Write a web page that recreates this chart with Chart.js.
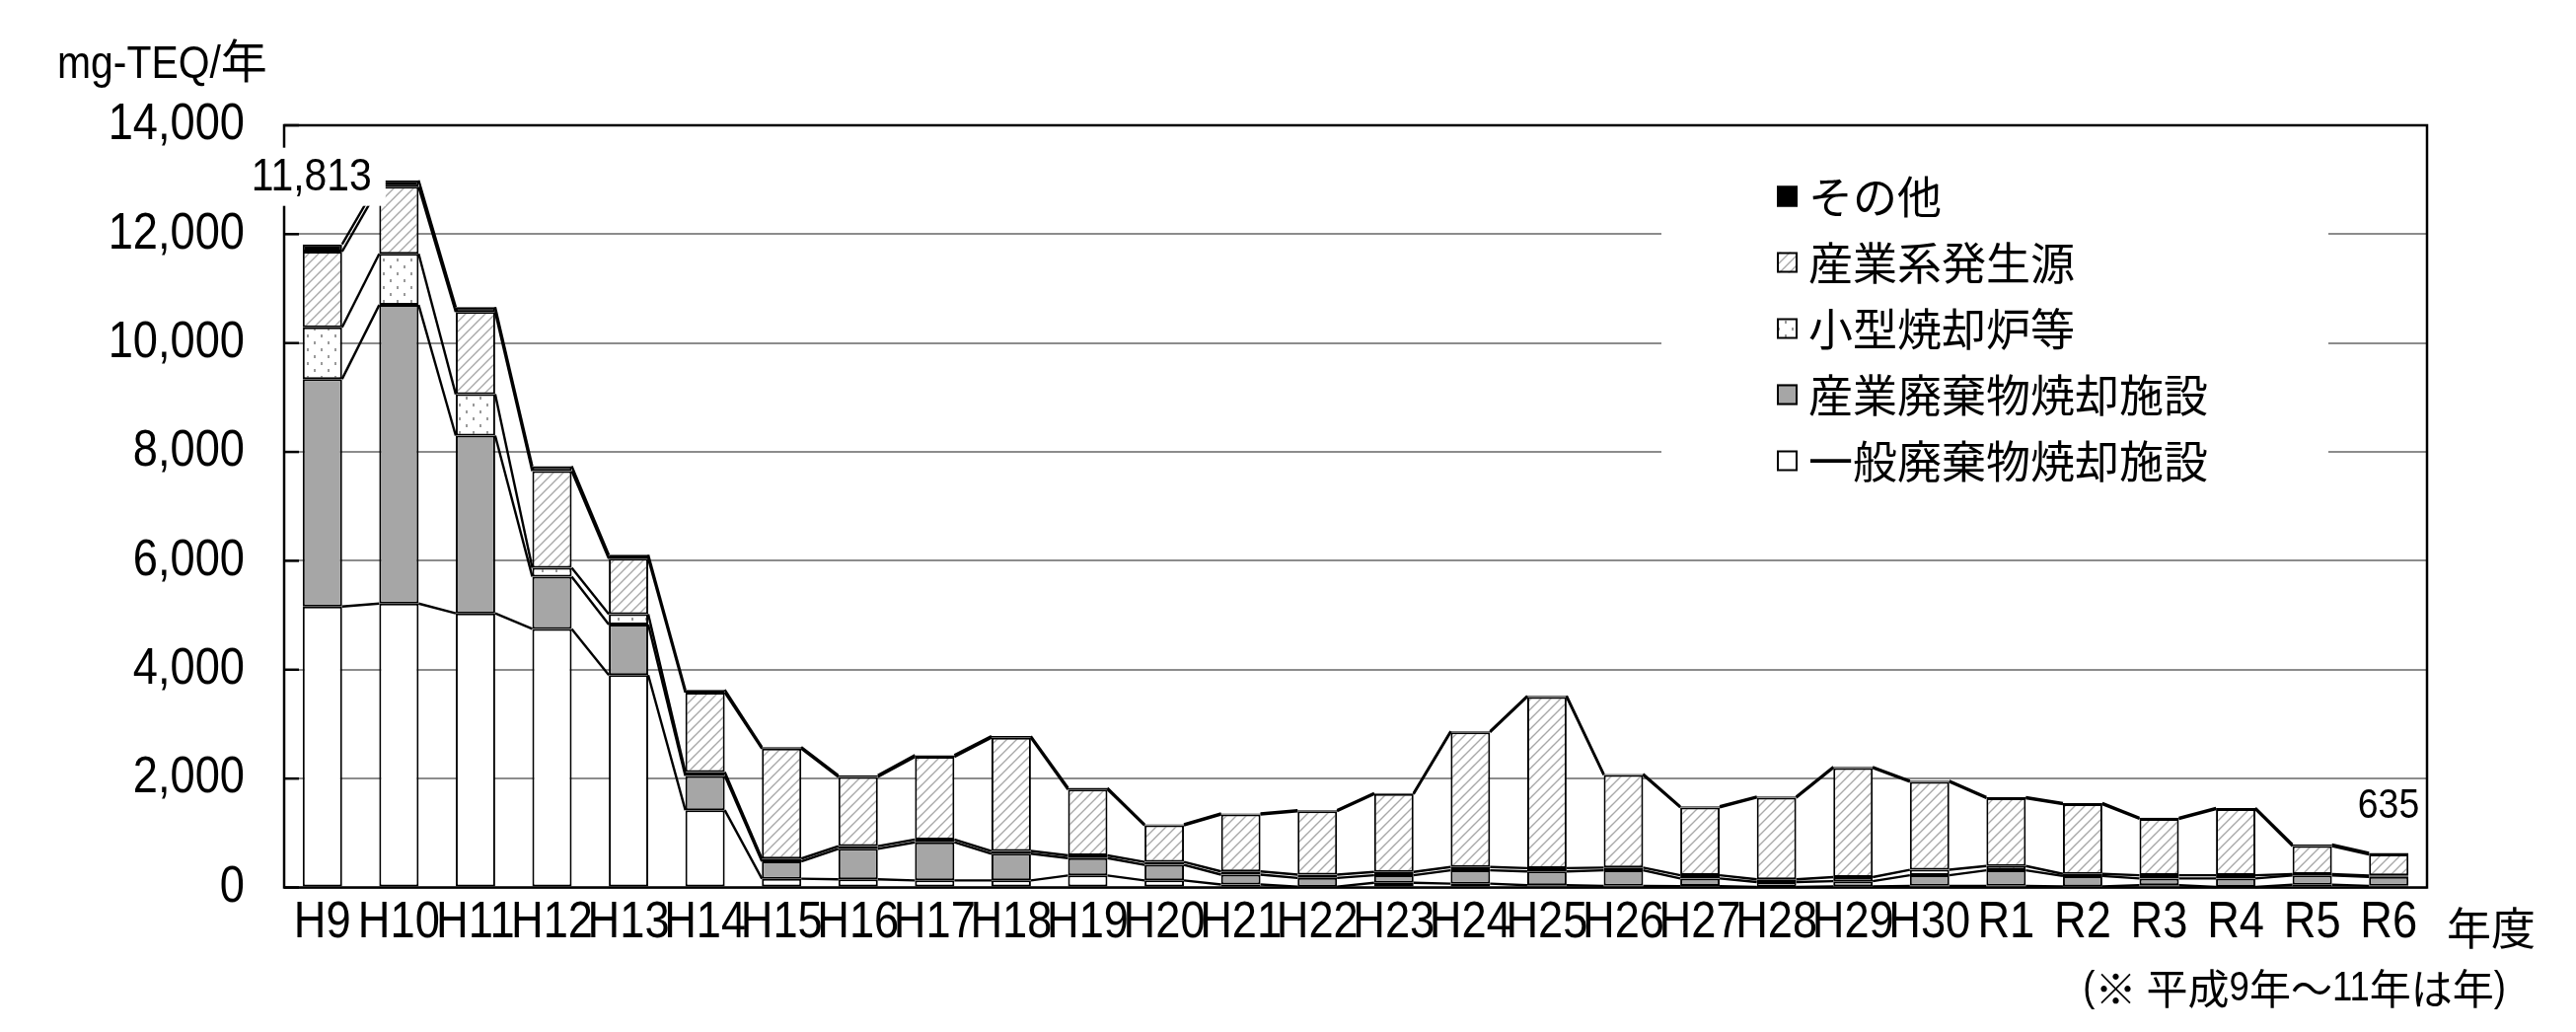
<!DOCTYPE html>
<html><head><meta charset="utf-8">
<script src="https://cdn.jsdelivr.net/npm/chart.js@4.4.1/dist/chart.umd.min.js"></script>
<style>html,body{margin:0;padding:0;background:#fff;overflow:hidden}canvas{display:block}</style>
</head><body>
<canvas id="c" width="2611" height="1046"></canvas>
<script>
// ---- data ----
const categories = ['H9','H10','H11','H12','H13','H14','H15','H16','H17','H18','H19','H20','H21','H22','H23','H24','H25','H26','H27','H28','H29','H30','R1','R2','R3','R4','R5','R6'];
const ippan   = [5160,5215,5035,4750,3900,1420, 160, 150, 130, 130, 220, 130,  55,  15,  85,  70,  40,  30,  25,  10,  20,  30,  30,  20,  40,  10,  50,  30];
const sanpai  = [4180,5485,3265, 960, 930, 630, 320, 560, 700, 490, 320, 285, 180, 160, 140, 245, 255, 285, 140,  90,  95, 195, 285, 190, 125, 155, 170, 165];
const kogata  = [ 950, 940, 760, 160, 190,  70,  50,  50,  50,  50,  50,  55,  60,  60,  60,  60,  60,  50,  60,  50,  75, 100,  80,  40,  60,  60,  25,  25];
const sangyo  = [1390,1230,1510,1780,1020,1460,2020,1270,1520,2080,1210, 670,1045,1165,1430,2475,3145,1700,1245,1500,2005,1615,1245,1280,1035,1215, 515, 385];
const sonota  = [ 133, 120,  90,  90,  70,  50,  30,  30,  30,  30,  30,  20,  20,  20,  20,  20,  20,  20,  20,  20,  20,  20,  20,  20,  20,  20,  30,  30];
const seriesNames = ['一般廃棄物焼却施設','産業廃棄物焼却施設','小型焼却炉等','産業系発生源','その他'];
const yTickValues = [0,2000,4000,6000,8000,10000,12000,14000];
const labelledCategories = ['H9','R6'];
const yAxisTitle = 'mg-TEQ/年';
const xAxisTitle = '年度';
const footnote = '(※ 平成9年～11年は年)';

// ---- fonts: tall, slightly condensed Latin glyphs like the original ----
const LAT = '"Liberation Sans", Arial, sans-serif';
const CJK = '"Noto Sans CJK JP", sans-serif';
const COND = 0.87;
const canvas = document.getElementById('c');
const c2d = canvas.getContext('2d');
const nativeFill = CanvasRenderingContext2D.prototype.fillText;
c2d.fillText = function(t,x,y,mw){
  t = String(t);
  if (mw === undefined && /^[\x20-\x7E]+$/.test(t)) mw = this.measureText(t).width*COND;
  return mw === undefined ? nativeFill.call(this,t,x,y) : nativeFill.call(this,t,x,y,mw);
};
function drawMixed(ctx, text, x, y, latSize, cjkSize, align){
  const runs = text.match(/[\x20-\x7E]+|[^\x20-\x7E]+/g) || [];
  const items = runs.map(r=>{
    const lat = /^[\x20-\x7E]+$/.test(r);
    ctx.font = lat ? latSize+'px '+LAT : cjkSize+'px '+CJK;
    const w = ctx.measureText(r).width*(lat?COND:1);
    return {r,lat,w};
  });
  const total = items.reduce((s,i)=>s+i.w,0);
  let cx = align==='right' ? x-total : align==='center' ? x-total/2 : x;
  ctx.textAlign='left';
  items.forEach(it=>{
    ctx.font = it.lat ? latSize+'px '+LAT : cjkSize+'px '+CJK;
    if (it.lat) nativeFill.call(ctx,it.r,cx,y,it.w+0.01); else nativeFill.call(ctx,it.r,cx,y);
    cx += it.w;
  });
}

// ---- patterns ----
function hatchPattern(){
  const t=10, c=document.createElement('canvas'); c.width=t; c.height=t;
  const g=c.getContext('2d'); g.fillStyle='#fff'; g.fillRect(0,0,t,t);
  g.strokeStyle='#a8a8a8'; g.lineWidth=1.4;
  g.beginPath(); g.moveTo(-2,t+2); g.lineTo(t+2,-2);
  g.moveTo(-2,2); g.lineTo(2,-2); g.moveTo(t-2,t+2); g.lineTo(t+2,t-2); g.stroke();
  return g.createPattern(c,'repeat');
}
function dotPattern(){
  const w=14,h=14,c=document.createElement('canvas'); c.width=w; c.height=h;
  const g=c.getContext('2d'); g.fillStyle='#fff'; g.fillRect(0,0,w,h);
  g.fillStyle='#9a9a9a'; g.fillRect(3,3,2,3); g.fillRect(10,10,2,3);
  return g.createPattern(c,'repeat');
}
const fills = ['#ffffff','#a6a6a6',dotPattern(),hatchPattern(),'#000000'];
const seriesData = [ippan,sanpai,kogata,sangyo,sonota];

const deco = {
  id:'deco',
  afterDatasetsDraw(chart){
    const ctx=chart.ctx;
    ctx.save(); ctx.strokeStyle='#000'; ctx.lineWidth=2.4; ctx.lineCap='butt';
    chart.data.datasets.forEach((ds,di)=>{
      const els=chart.getDatasetMeta(di).data;
      for(let i=0;i<els.length-1;i++){
        const a=els[i], b=els[i+1];
        ctx.beginPath(); ctx.moveTo(a.x+a.width/2, a.y); ctx.lineTo(b.x-b.width/2, b.y); ctx.stroke();
      }
    });
    ctx.restore();
  },
  afterDraw(chart){
    const ctx=chart.ctx, A=chart.chartArea, ys=chart.scales.y;
    ctx.save();
    // plot border
    ctx.strokeStyle='#000'; ctx.lineWidth=2.5;
    ctx.strokeRect(A.left, A.top, A.right-A.left, A.bottom-A.top);
    // inner tick marks
    yTickValues.forEach(v=>{const y=ys.getPixelForValue(v);ctx.beginPath();ctx.moveTo(A.left,y);ctx.lineTo(A.left+15,y);ctx.stroke();});
    // legend
    ctx.fillStyle='#fff'; ctx.fillRect(1684,150,676,370);
    const order=[4,3,2,1,0];
    ctx.textBaseline='middle'; ctx.textAlign='left';
    order.forEach((di,k)=>{
      const cy=198.5+k*67;
      ctx.fillStyle=fills[di]; ctx.fillRect(1801,cy-10,21,21);
      ctx.strokeStyle='#000'; ctx.lineWidth=2; ctx.strokeRect(1802,cy-9,19,19);
      ctx.fillStyle='#000'; ctx.font='45px '+CJK;
      ctx.fillText(chart.data.datasets[di].label,1833,cy+1);
    });
    // total labels
    const totals=categories.map((c,i)=>seriesData.reduce((s,a)=>s+a[i],0));
    const top=chart.getDatasetMeta(4).data;
    labelledCategories.forEach(cat=>{
      const i=categories.indexOf(cat), el=top[i], txt=totals[i].toLocaleString('en-US');
      ctx.textBaseline='middle';
      if(cat==='H9'){
        ctx.fillStyle='#fff'; ctx.fillRect(el.x-79, el.y-98, 143, 59);
        ctx.fillStyle='#000'; ctx.font='47px '+LAT; ctx.textAlign='center';
        ctx.fillText(txt, el.x-11, el.y-68);
      } else {
        ctx.fillStyle='#000'; ctx.font='43px '+LAT; ctx.textAlign='right';
        ctx.fillText(txt, el.x+31, el.y-47);
      }
    });
    // titles
    ctx.fillStyle='#000'; ctx.textBaseline='alphabetic';
    drawMixed(ctx, yAxisTitle, 58, 79, 47, 47, 'left');
    ctx.textBaseline='middle';
    drawMixed(ctx, xAxisTitle, 2480, 941, 45, 45, 'left');
    drawMixed(ctx, footnote, 2540, 1002, 42, 42, 'right');
    ctx.restore();
  }
};

new Chart(c2d, {
  type:'bar',
  data:{
    labels:categories,
    datasets:seriesNames.map((n,i)=>({label:n,data:seriesData[i],backgroundColor:fills[i]}))
  },
  options:{
    responsive:false, animation:false, devicePixelRatio:1,
    layout:{padding:{top:127,right:151,left:0,bottom:0}},
    plugins:{legend:{display:false},tooltip:{enabled:false}},
    datasets:{bar:{categoryPercentage:1,barPercentage:0.515,borderColor:'#000',borderWidth:2,borderSkipped:false,inflateAmount:0}},
    scales:{
      x:{stacked:true,grid:{display:false,drawTicks:false},border:{display:false},
         ticks:{color:'#000',font:{family:LAT,size:52,lineHeight:1},padding:10,maxRotation:0,autoSkip:false},
         afterFit(s){s.height=146.5;}},
      y:{stacked:true,min:0,max:14000,
         ticks:{stepSize:2000,color:'#000',font:{family:LAT,size:52},padding:40,callback:v=>v.toLocaleString('en-US')},
         grid:{color:'#8c8c8c',lineWidth:2,drawTicks:false},border:{display:false},
         afterFit(s){s.width=288;}}
    }
  },
  plugins:[deco]
});
</script>
</body></html>
